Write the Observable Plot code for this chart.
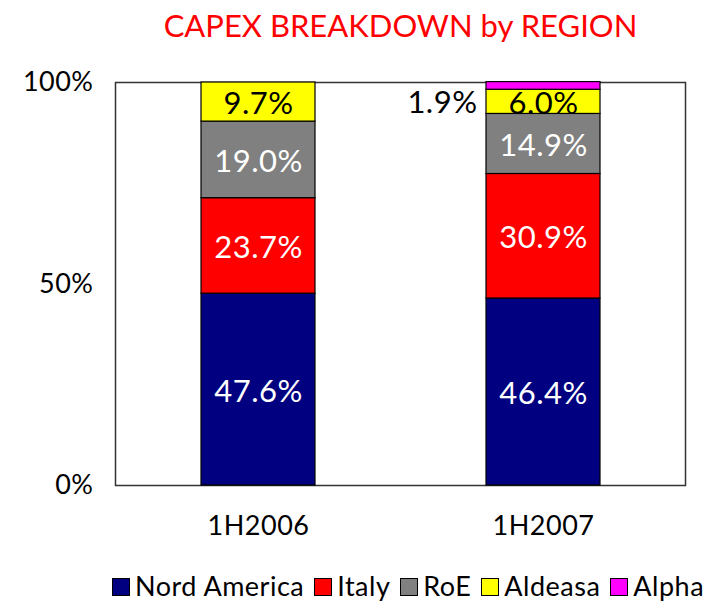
<!DOCTYPE html>
<html>
<head>
<meta charset="utf-8">
<script src="https://cdn.jsdelivr.net/npm/d3@7"></script>
<script src="https://cdn.jsdelivr.net/npm/@observablehq/plot@0.6"></script>
<style>
  body { margin: 0; background: #fff; width: 709px; height: 602px; overflow: hidden; font-family: Lato, "Noto Sans", sans-serif; }
  #title { height: 60px; width: 709px; color: #ff0000; font-size: 31px; line-height: 50px; text-align: center; padding-left: 92px; box-sizing: border-box; }
  #legend { height: 52px; width: 709px; white-space: nowrap; overflow: hidden; padding-left: 112px; box-sizing: border-box; font-size: 27px; letter-spacing: 0.5px; line-height: 72px; color: #000; }
  .sw { display: inline-block; width: 16px; height: 16px; border: 1px solid #000; margin-right: 5px; vertical-align: 0px; }
  .item { margin-right: 10px; }
</style>
</head>
<body>
<div id="title">CAPEX BREAKDOWN by REGION</div>
<div id="chart"></div>
<div id="legend"></div>
<script>
const periods = ["1H2006", "1H2007"];
const regions = ["Nord America", "Italy", "RoE", "Aldeasa", "Alpha"];
const colors = ["#000080", "#ff0000", "#808080", "#ffff00", "#ff00ff"];
const labelColors = ["#fff", "#fff", "#fff", "#000", "#000"];
const values1H2006 = [47.6, 23.7, 19.0, 9.7, 0];
const values1H2007 = [46.4, 30.9, 14.9, 6.0, 1.9];
const yTicks = [0, 50, 100];

const series = [values1H2006, values1H2007];
const data = [];
periods.forEach((p, i) => regions.forEach((r, j) => {
  if (series[i][j] > 0) data.push({period: p, region: r, value: series[i][j], ri: j});
}));

const fmt = v => v.toFixed(1) + "%";

const chart = Plot.plot({
  width: 709,
  height: 490,
  marginTop: 22,
  marginBottom: 65,
  marginLeft: 115,
  marginRight: 24,
  style: { fontFamily: "Lato, 'Noto Sans', sans-serif", fontSize: "27px", background: "#fff", color: "#000", letterSpacing: "0.5px" },
  x: { domain: periods, paddingInner: 0.6, paddingOuter: 0.3, label: null, tickSize: 0, tickPadding: 30 },
  y: { domain: [0, 100], ticks: yTicks, tickFormat: d => d + "%", label: null, tickSize: 0, tickPadding: 22 },
  color: { domain: regions, range: colors },
  marks: [
    Plot.frame({ stroke: "#333", strokeWidth: 1.5 }),
    Plot.barY(data, { x: "period", y: "value", fill: "region", order: regions, stroke: "#000", strokeWidth: 1.2 }),
    Plot.text(data, Plot.stackY({
      x: "period", y: "value", z: "region", order: regions,
      text: d => d.region === "Alpha" ? "" : fmt(d.value),
      fill: d => labelColors[d.ri],
      fontSize: 31,
      dy: 2
    })),
    Plot.text(data, Plot.stackY({
      x: "period", y: "value", z: "region", order: regions,
      text: d => d.region === "Alpha" ? fmt(d.value) : "",
      fill: "#000", fontSize: 31, textAnchor: "end", dx: -66, dy: 17
    }))
  ]
});
document.getElementById("chart").appendChild(chart);

const legend = document.getElementById("legend");
regions.forEach((r, j) => {
  const s = document.createElement("span");
  s.className = "item";
  s.innerHTML = `<span class="sw" style="background:${colors[j]}"></span>${r}`;
  legend.appendChild(s);
});
</script>
</body>
</html>
